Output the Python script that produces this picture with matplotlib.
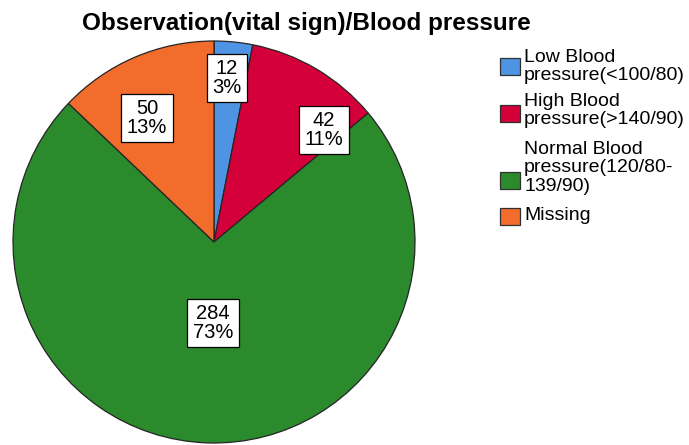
import matplotlib
matplotlib.use("Agg")
import matplotlib.pyplot as plt
from matplotlib.patches import Rectangle

# ── Data ──────────────────────────────────────────────────────────────────────
TITLE   = "Observation(vital sign)/Blood pressure"
LABELS  = ["Low Blood\npressure(<100/80)",
           "High Blood\npressure(>140/90)",
           "Normal Blood\npressure(120/80-\n139/90)",
           "Missing"]
COUNTS  = [12, 42, 284, 50]
PCTS    = ["3%", "11%", "73%", "13%"]
COLORS  = ["#4f94e3", "#d4003a", "#2a8a2c", "#f26c2b"]

# ── Layout (pixel coordinates, origin bottom-left) ────────────────────────────
W, H = 689, 445
CX, CY, R = 214, H - 242, 201
LABEL_XY = [(227, H - 78), (324, H - 130), (213, H - 323), (147, H - 118)]
LEG_PATCH_TOP = [58, 105, 172, 208]   # from top
LEG_CAP_TOP   = [53, 97, 145, 212]    # cap top of first line, from top

plt.rcParams["font.family"] = ["Liberation Sans", "DejaVu Sans"]

fig = plt.figure(figsize=(W / 100, H / 100), dpi=100)
ax = fig.add_axes([0, 0, 1, 1])

ax.pie(COUNTS, colors=COLORS, startangle=90, counterclock=False,
       center=(CX, CY), radius=R, frame=True,
       wedgeprops=dict(edgecolor="#252525", linewidth=0.9))
ax.set_xlim(0, W)
ax.set_ylim(0, H)
ax.set_aspect("equal")
ax.axis("off")

for (x, y), n, p in zip(LABEL_XY, COUNTS, PCTS):
    ax.text(x, y, f"{n}\n{p}", ha="center", va="center", fontsize=14.5,
            linespacing=0.95,
            bbox=dict(boxstyle="square,pad=0.28", fc="white", ec="black", lw=0.9))

ax.text(306, H - 30, TITLE, ha="center", va="baseline", fontsize=17.5,
        fontweight="bold")

# legend
for lab, c, pt, ct in zip(LABELS, COLORS, LEG_PATCH_TOP, LEG_CAP_TOP):
    ax.add_patch(Rectangle((500, H - pt - 17), 20, 17, fc=c, ec="#303030", lw=0.9))
    ax.text(524, H - ct + 4.5, lab, ha="left", va="top", fontsize=14,
            linespacing=1.15)

fig.savefig("out.png", dpi=100)
